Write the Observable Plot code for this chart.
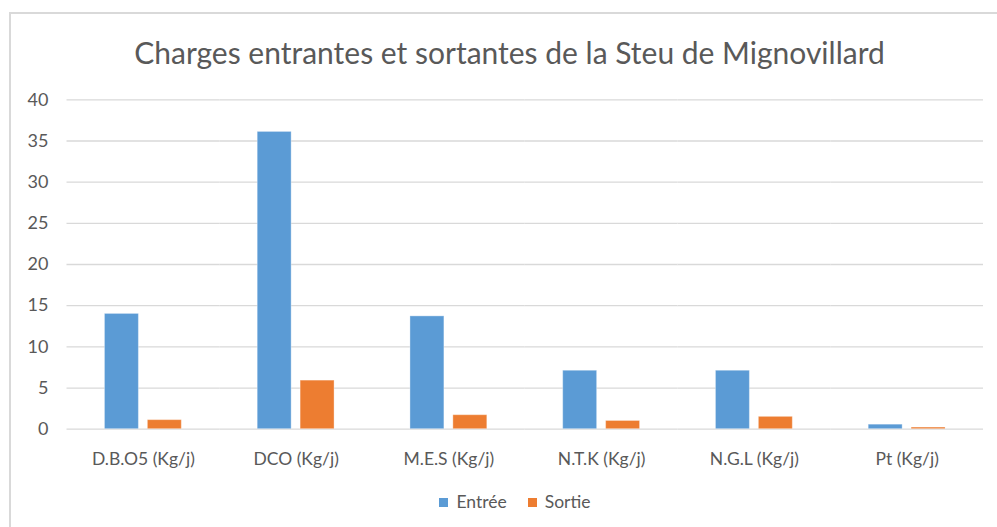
<!DOCTYPE html>
<html lang="fr">
<head>
<meta charset="utf-8">
<script src="https://cdn.jsdelivr.net/npm/d3@7"></script>
<script src="https://cdn.jsdelivr.net/npm/@observablehq/plot@0.6"></script>
<style>
  html, body { margin: 0; padding: 0; background: #fff; }
  body { width: 997px; height: 527px; position: relative; overflow: hidden; font-family: "Lato", sans-serif; color: #595959; }
  #frame { position: absolute; left: 9px; top: 12px; width: 990px; height: 520px; border-top: 2px solid #d9d9d9; border-left: 2px solid #d9d9d9; }
  #title { position: absolute; left: 22px; width: 975px; top: 31px; line-height: 42px; text-align: center; font-size: 30px; }
  #chart { position: absolute; left: 0; top: 80px; }
  #legend { position: absolute; left: 0; width: 1030px; top: 490px; display: flex; justify-content: center; gap: 21px; font-size: 17.5px; line-height: 24px; }
  #legend .item { display: flex; align-items: center; gap: 8px; }
  #legend .swatch { width: 9px; height: 9px; display: inline-block; }
</style>
</head>
<body>
<div id="frame"></div>
<div id="title">Charges entrantes et sortantes de la Steu de Mignovillard</div>
<div id="chart"></div>
<div id="legend"></div>
<script>
// Pollution loads (kg/day) entering and leaving the treatment plant
const categories = ["D.B.O5 (Kg/j)", "DCO (Kg/j)", "M.E.S (Kg/j)", "N.T.K (Kg/j)", "N.G.L (Kg/j)", "Pt (Kg/j)"];
const seriesNames = ["Entrée", "Sortie"];
const entree = [14.0, 36.1, 13.7, 7.1, 7.1, 0.55];
const sortie = [1.1, 5.9, 1.7, 1.0, 1.5, 0.2];
const yTicks = [0, 5, 10, 15, 20, 25, 30, 35, 40];
const colors = ["#5b9bd5", "#ed7d31"];

const rows = categories.flatMap((c, i) => [
  {cat: c, series: seriesNames[0], value: entree[i]},
  {cat: c, series: seriesNames[1], value: sortie[i]}
]);

const chart = Plot.plot({
  width: 997,
  height: 400,
  marginLeft: 66.5,
  marginRight: 14,
  marginTop: 19.3,
  marginBottom: 51.3,
  style: {fontFamily: "Lato, sans-serif", fontSize: "17.5px", color: "#595959", background: "transparent"},
  fx: {domain: categories, padding: 0, round: false, label: null, axis: "bottom", tickSize: 0, tickPadding: 23},
  x: {domain: seriesNames, paddingInner: 0.209, paddingOuter: 0.884, round: false, axis: null},
  y: {domain: [0, 40], label: null},
  color: {domain: seriesNames, range: colors},
  marks: [
    Plot.gridY(yTicks, {stroke: "#d9d9d9", strokeOpacity: 1, strokeWidth: 1.3}),
    Plot.axisY(yTicks, {tickSize: 0, tickPadding: 18.5, fontSize: 18, label: null}),
    Plot.barY(rows, {fx: "cat", x: "series", y: "value", fill: "series", stroke: "#ffffff", strokeOpacity: 0.35, strokeWidth: 1})
  ]
});
document.getElementById("chart").appendChild(chart);

// Legend below the chart
const legend = d3.select("#legend");
seriesNames.forEach((name, i) => {
  const item = legend.append("div").attr("class", "item");
  item.append("span").attr("class", "swatch").style("background", colors[i]);
  item.append("span").text(name);
});
</script>
</body>
</html>
